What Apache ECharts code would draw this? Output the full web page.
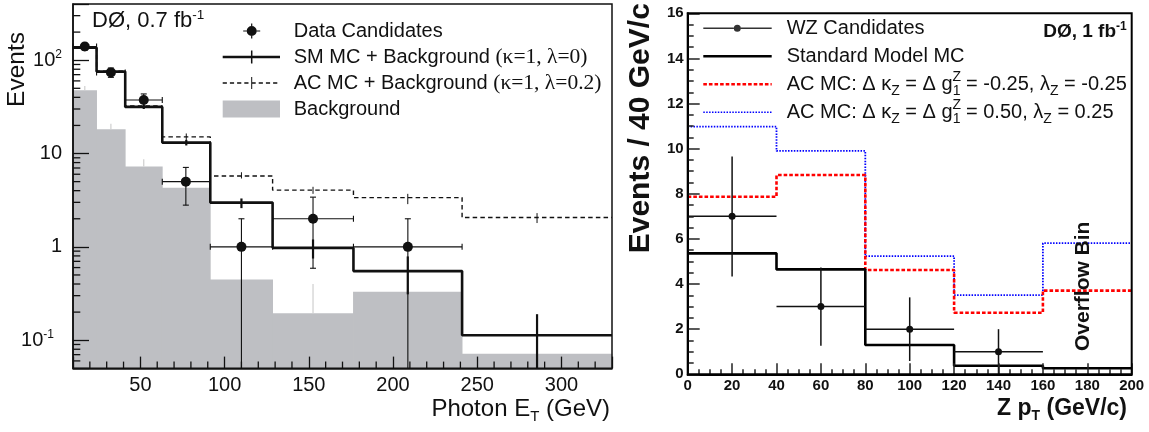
<!DOCTYPE html>
<html><head><meta charset="utf-8">
<script src="https://cdn.jsdelivr.net/npm/echarts@6/dist/echarts.min.js"></script>
<style>html,body{margin:0;padding:0;background:#fff}#c{width:1149px;height:432px}</style>
</head><body><div id="c"></div>
<script>
// ---------------- Left panel (photon ET) ----------------
const leftBinEdges = [10, 24, 41, 63, 91.5, 128.5, 176.5, 241, 330];
const leftSM   = [136, 75.5, 31.6, 13.1, 2.98, 0.976, 0.55, 0.113];
const leftSMLo = [132, 72.5, 30.0, 12.2, 2.6, 0.75, 0.31, 0];
const leftSMHi = [140, 78.5, 33.2, 14.0, 3.3, 1.2, 0.79, 0.19];
const leftAC   = [137, 76, 32.4, 15.1, 5.75, 4.05, 3.37, 2.06];
const leftACLo = [133, 73, 31.0, 13.8, 5.4, 3.7, 2.87, 1.8];
const leftACHi = [141, 79, 34.0, 16.4, 6.3, 4.4, 3.7, 2.3];
const leftBkg   = [47.7, 18.2, 7.25, 4.31, 0.447, 0.195, 0.331, 0.0716];
const leftBkgHi = [53, 20.8, 8.7, 4.9, 0.447, 0.4, 0.331, 0.0716];
const leftDataX  = [17, 32.5, 52, 77, 110, 152.5, 208.8];
const leftDataY  = [140, 74, 37.5, 5, 1, 2, 1];
const leftDataLo = [128, 65.5, 31.5, 2.8, 0, 0.59, 0];
const leftDataHi = [152, 82.5, 43.5, 7.1, 2.0, 3.41, 2.0];
const leftXMinorTicks = [20,30,40,60,70,80,90,110,120,130,140,160,170,180,190,210,220,230,240,260,270,280,290,310,320];
const leftYMinorTicks = [0.06,0.07,0.08,0.09,0.2,0.3,0.4,0.5,0.6,0.7,0.8,0.9,2,3,4,5,6,7,8,9,20,30,40,50,60,70,80,90,200,300];
const leftYTickLabels = {'2': '10{sup|2}', '1': '10', '0': '1', '-1': '10{sup|-1}{pad| }'};

// ---------------- Right panel (Z pT) ----------------
const rightBinEdges = [0, 40, 80, 120, 160, 200];
const rightSM    = [5.36, 4.65, 1.30, 0.38, 0.27];
const rightACneg = [7.87, 8.83, 4.62, 2.73, 3.71];
const rightACpos = [10.98, 9.90, 5.24, 3.51, 5.81];
const rightDataX  = [20, 60, 100, 140];
const rightDataY  = [7, 3, 2, 1];
const rightDataLo = [4.33, 1.27, 0.59, 0];
const rightDataHi = [9.65, 4.73, 3.41, 2.0];
const overflowLabel = [[178, 3.9]];

const nmData = 'Data Candidates', nmSM = 'SM MC + Background (κ=1, λ=0)', nmAC = 'AC MC + Background (κ=1, λ=0.2)', nmBkg = 'Background';
const nmWZ = 'WZ Candidates', nmSMR = 'Standard Model MC',
      nmNeg = 'AC MC: Δ κZ = Δ gZ1 = -0.25, λZ = -0.25', nmPos = 'AC MC: Δ κZ = Δ gZ1 = 0.50, λZ = 0.25';
const rightRich = {};
rightRich[nmWZ] = 'WZ Candidates';
rightRich[nmSMR] = 'Standard Model MC';
rightRich[nmNeg] = 'AC MC: Δ κ{sz|Z} = Δ g{sp|Z}{s1|1} = -0.25, λ{sz|Z} = -0.25';
rightRich[nmPos] = 'AC MC: Δ κ{sz|Z} = Δ g{sp|Z}{s1|1} = 0.50, λ{sz|Z} = 0.25';

const FF = 'Liberation Sans, Arial, Helvetica, sans-serif';
const SERIF = 'Liberation Serif, Times New Roman, serif';
const INK = '#111';

function stepData(edges, vals) { return edges.map((e, i) => [e, vals[Math.min(i, vals.length - 1)]]); }
function centers(edges) { return edges.slice(0, -1).map((e, i) => (e + edges[i + 1]) / 2); }

const lc = centers(leftBinEdges);
const bkgItems = leftBkg.map((v, i) => [leftBinEdges[i], leftBinEdges[i + 1], v]);
const bkgErrItems = leftBkg.map((v, i) => [lc[i], v, leftBkgHi[i]]);
const smErrItems = leftSM.map((v, i) => [lc[i], leftSMLo[i], leftSMHi[i]]);
const acErrItems = leftAC.map((v, i) => [lc[i], leftACLo[i], leftACHi[i]]);
const leftDataItems = leftDataY.map((v, i) => [leftDataX[i], leftBinEdges[i], leftBinEdges[i + 1], v, leftDataLo[i], leftDataHi[i]]);
const rightDataItems = rightDataY.map((v, i) => [rightDataX[i], rightBinEdges[i], rightBinEdges[i + 1], v, rightDataLo[i], rightDataHi[i]]);

function vsegRender(style) {
  return function (params, api) {
    const x = api.value(0), lo = api.value(1), hi = api.value(2);
    const cs = params.coordSys, bottom = cs.y + cs.height;
    const pHi = api.coord([x, hi]);
    const pLo = lo > 0 ? api.coord([x, lo]) : [pHi[0], bottom];
    return {type: 'line', shape: {x1: pHi[0], y1: pHi[1], x2: pHi[0], y2: Math.min(pLo[1], bottom)}, style: style};
  };
}
function dataRender(r, lw, caps) {
  return function (params, api) {
    const x = api.value(0), xlo = api.value(1), xhi = api.value(2), y = api.value(3), ylo = api.value(4), yhi = api.value(5);
    const cs = params.coordSys, bottom = cs.y + cs.height;
    const c = api.coord([x, y]), l = api.coord([xlo, y]), rr = api.coord([xhi, y]), t = api.coord([x, yhi]);
    const b = ylo > 0 ? api.coord([x, ylo]) : [c[0], bottom];
    const st = {stroke: INK, lineWidth: lw};
    const ch = [
      {type: 'line', shape: {x1: l[0], y1: c[1], x2: rr[0], y2: c[1]}, style: st},
      {type: 'line', shape: {x1: c[0], y1: t[1], x2: c[0], y2: b[1]}, style: st}
    ];
    if (caps) {
      ch.push({type: 'line', shape: {x1: l[0], y1: c[1] - 3, x2: l[0], y2: c[1] + 3}, style: st});
      ch.push({type: 'line', shape: {x1: rr[0], y1: c[1] - 3, x2: rr[0], y2: c[1] + 3}, style: st});
      ch.push({type: 'line', shape: {x1: c[0] - 3, y1: t[1], x2: c[0] + 3, y2: t[1]}, style: st});
      if (ylo > 0) ch.push({type: 'line', shape: {x1: c[0] - 3, y1: b[1], x2: c[0] + 3, y2: b[1]}, style: st});
    }
    ch.push({type: 'circle', shape: {cx: c[0], cy: c[1], r: r}, style: {fill: INK}});
    return {type: 'group', children: ch};
  };
}

// legend icon paths (style only)
function dashes(x0, x1, y, h, d, g) {
  let s = '';
  for (let x = x0; x < x1 - 0.5; x += d + g) { const w = Math.min(d, x1 - x); s += 'M' + x + ',' + (y - h / 2) + 'h' + w + 'v' + h + 'h' + (-w) + 'z'; }
  return s;
}
const L = 'M0,0M66,24';
const iconData = 'path://' + L + 'M20.5,11.4h3.5v1.2h-3.5zM34,11.4h3.5v1.2h-3.5zM28.4,4.5h1.2v2.5h-1.2zM28.4,17h1.2v2.5h-1.2zM24,12a5,5 0 1,0 10,0a5,5 0 1,0 -10,0z';
const iconSM = 'path://' + L + 'M0,10.75h57.3v2.5h-57.3zM28.25,5.5h1.5v13h-1.5z';
const iconAC = 'path://' + L + dashes(0, 57.3, 12, 1.3, 4.2, 3.0) + 'M28.5,6h1v12h-1z';
const iconBkg = 'path://' + L + 'M0,3.5h57.3v17h-57.3z';
const R = 'M0,0M78.4,16';
const iconWZ = 'path://' + R + 'M0,7.3h30.5v1.4h-30.5zM37.5,7.3h30.9v1.4h-30.9zM30.5,8a3.5,3.5 0 1,0 7,0a3.5,3.5 0 1,0 -7,0z';
const iconSMR = 'path://' + R + 'M0,6.75h68.4v2.5h-68.4z';
const iconNeg = 'path://' + R + dashes(0, 68.4, 8, 2.5, 3.6, 2.0);
const iconPos = 'path://' + R + dashes(0, 68.4, 8, 1.6, 1.5, 1.4);

const axisInk = {color: INK, width: 1.5};
const chart = echarts.init(document.getElementById('c'), null, {renderer: 'canvas'});
chart.setOption({
  animation: false,
  backgroundColor: '#fff',
  title: [
    {text: 'DØ, 0.7 fb{sup|-1}', left: 92, top: 8, padding: 0,
     textStyle: {fontFamily: FF, fontSize: 22, fontWeight: 'normal', color: INK, lineHeight: 25,
       rich: {sup: {fontFamily: FF, fontSize: 13.5, lineHeight: 17, verticalAlign: 'top', color: INK}}}},
    {text: 'DØ, 1 fb{sup|-1}', right: 22.3, top: 21, padding: 0,
     textStyle: {fontFamily: FF, fontSize: 19, fontWeight: 'bold', color: INK, lineHeight: 22,
       rich: {sup: {fontFamily: FF, fontSize: 12, fontWeight: 'bold', lineHeight: 9, verticalAlign: 'top', color: INK}}}}
  ],
  legend: [
    {orient: 'vertical', left: 222.7, top: 19, padding: 0, itemGap: 2, itemWidth: 66, itemHeight: 24,
     selectedMode: false, itemStyle: {borderWidth: 0},
     data: [
       {name: nmData, icon: iconData, itemStyle: {color: INK, borderWidth: 0}},
       {name: nmSM, icon: iconSM, itemStyle: {color: INK, borderWidth: 0}},
       {name: nmAC, icon: iconAC, itemStyle: {color: INK, borderWidth: 0}},
       {name: nmBkg, icon: iconBkg, itemStyle: {color: '#bebfc3', borderWidth: 0}}
     ],
     formatter: n => n.replace(/\((κ[^)]*)\)/, '{g|($1)}'),
     textStyle: {fontFamily: FF, fontSize: 20, color: INK, lineHeight: 22,
       rich: {g: {fontFamily: SERIF, fontSize: 21.5, lineHeight: 22, color: INK}}}},
    {orient: 'vertical', left: 703.3, top: 14.3, padding: 0, itemGap: 0, itemWidth: 78.4, itemHeight: 16,
     selectedMode: false, itemStyle: {borderWidth: 0},
     data: [
       {name: nmWZ, icon: iconWZ, itemStyle: {color: '#333', borderWidth: 0}},
       {name: nmSMR, icon: iconSMR, itemStyle: {color: '#000', borderWidth: 0}},
       {name: nmNeg, icon: iconNeg, itemStyle: {color: '#ff0000', borderWidth: 0}},
       {name: nmPos, icon: iconPos, itemStyle: {color: '#0000ff', borderWidth: 0}}
     ],
     formatter: n => rightRich[n],
     textStyle: {fontFamily: FF, fontSize: 20, color: INK, lineHeight: 28,
       rich: {
         sz: {fontFamily: FF, fontSize: 14, lineHeight: 2, verticalAlign: 'bottom', color: INK},
         sp: {fontFamily: FF, fontSize: 14, lineHeight: 18, verticalAlign: 'top', width: 0.1, color: INK},
         s1: {fontFamily: FF, fontSize: 14, lineHeight: 10, verticalAlign: 'bottom', color: INK}
       }}}
  ],
  grid: [
    {left: 73, top: 4, width: 539, height: 364.3, show: true, borderColor: INK, borderWidth: 1.5, z: 5, outerBoundsMode: 'none', containLabel: false},
    {left: 687.7, top: 13.3, width: 444, height: 361, show: true, borderColor: '#000', borderWidth: 2, z: 5, outerBoundsMode: 'none', containLabel: false}
  ],
  xAxis: [
    {type: 'value', gridIndex: 0, min: 10, max: 330, z: 4,
     axisLine: {show: true, lineStyle: axisInk}, splitLine: {show: false},
     axisTick: {show: true, inside: true, length: 11.7, lineStyle: {color: INK, width: 1.3}},
     axisLabel: {formatter: v => (v % 50 === 0 ? String(v) : ''), fontFamily: FF, fontSize: 20, color: INK, margin: 7, showMinLabel: true, showMaxLabel: true},
     name: 'Photon E{sub|T} (GeV)', nameLocation: 'end', nameGap: -2, nameMoveOverlap: false,
     nameTextStyle: {fontFamily: FF, fontSize: 24, color: INK, align: 'right', verticalAlign: 'top', lineHeight: 30, padding: [26, 0, 0, 0],
       rich: {sub: {fontFamily: FF, fontSize: 15, lineHeight: 4, verticalAlign: 'bottom', color: INK}}}},
    {type: 'value', gridIndex: 1, min: 0, max: 200, interval: 20, z: 4,
     axisLine: {show: true, lineStyle: {color: '#000', width: 2}}, splitLine: {show: false},
     axisTick: {show: true, inside: true, length: 11, lineStyle: {color: '#222', width: 1.5}},
     minorTick: {show: true, splitNumber: 4, length: 5, lineStyle: {color: '#222', width: 1.5}},
     axisLabel: {fontFamily: FF, fontSize: 15, fontWeight: 'bold', color: INK, margin: 4, showMinLabel: true, showMaxLabel: true},
     name: 'Z p{sub|T} (GeV/c)', nameLocation: 'end', nameGap: -4.7, nameMoveOverlap: false,
     nameTextStyle: {fontFamily: FF, fontSize: 23, fontWeight: 'bold', color: INK, align: 'right', verticalAlign: 'top', lineHeight: 30, padding: [19, 0, 0, 0],
       rich: {sub: {fontFamily: FF, fontSize: 14, fontWeight: 'bold', lineHeight: 2, verticalAlign: 'bottom', color: INK}}}}
  ],
  yAxis: [
    {type: 'log', logBase: 10, gridIndex: 0, min: 0.05, max: 400, z: 4,
     axisLine: {show: true, lineStyle: axisInk}, splitLine: {show: false},
     axisTick: {show: true, inside: true, length: 16, lineStyle: {color: INK, width: 1.3}},
     axisLabel: {fontFamily: FF, fontSize: 20, color: INK, margin: 11, lineHeight: 24, showMinLabel: true, showMaxLabel: true,
       formatter: v => { const k = Math.log10(v), kr = Math.round(k); if (Math.abs(k - kr) > 1e-6) return ''; return leftYTickLabels[String(kr)] || ''; },
       rich: {sup: {fontFamily: FF, fontSize: 12, lineHeight: 15, verticalAlign: 'top', color: INK}, pad: {width: 8, fontSize: 12}}}},
    {type: 'value', gridIndex: 1, min: 0, max: 16, interval: 2, z: 4,
     axisLine: {show: true, lineStyle: {color: '#000', width: 2}}, splitLine: {show: false},
     axisTick: {show: true, inside: true, length: 12, lineStyle: {color: '#222', width: 1.5}},
     minorTick: {show: true, splitNumber: 4, length: 6, lineStyle: {color: '#222', width: 1.5}},
     axisLabel: {fontFamily: FF, fontSize: 15, fontWeight: 'bold', color: INK, margin: 4, showMinLabel: true, showMaxLabel: true}}
  ],
  graphic: [
    {type: 'text', x: 17.2, y: 32, rotation: Math.PI / 2, z: 10, silent: true,
     style: {text: 'Events', font: '24.5px ' + FF, fill: INK, align: 'right', verticalAlign: 'middle'}},
    {type: 'text', x: 640.8, y: 253.3, rotation: Math.PI / 2, z: 10, silent: true,
     style: {text: 'Events / 40 GeV/c', font: 'bold 30px ' + FF, fill: INK, align: 'left', verticalAlign: 'middle'}}
  ],
  series: [
    // ---------- left ----------
    {name: nmBkg, type: 'custom', xAxisIndex: 0, yAxisIndex: 0, z: 1, silent: true, itemStyle: {color: '#bebfc3'},
     encode: {x: [0, 1], y: 2}, data: bkgItems,
     renderItem: (params, api) => {
       const cs = params.coordSys, bottom = cs.y + cs.height;
       const p0 = api.coord([api.value(0), api.value(2)]), p1 = api.coord([api.value(1), api.value(2)]);
       return {type: 'rect', shape: {x: p0[0] - 0.4, y: p0[1], width: p1[0] - p0[0] + 0.8, height: bottom - p0[1]}, style: {fill: '#bebfc3'}};
     }},
    {name: 'bkgErr', type: 'custom', xAxisIndex: 0, yAxisIndex: 0, z: 1.5, silent: true, encode: {x: 0, y: 2}, data: bkgErrItems,
     renderItem: vsegRender({stroke: '#cfcfcf', lineWidth: 1.2})},
    {name: nmAC, type: 'line', xAxisIndex: 0, yAxisIndex: 0, step: 'end', symbol: 'none', z: 2, silent: true,
     itemStyle: {color: INK}, lineStyle: {color: INK, width: 1.4, type: [4.5, 3.2]}, data: stepData(leftBinEdges, leftAC)},
    {name: 'acErr', type: 'custom', xAxisIndex: 0, yAxisIndex: 0, z: 2, silent: true, encode: {x: 0, y: 2}, data: acErrItems,
     renderItem: vsegRender({stroke: INK, lineWidth: 1})},
    {name: nmSM, type: 'line', xAxisIndex: 0, yAxisIndex: 0, step: 'end', symbol: 'none', z: 3, silent: true,
     itemStyle: {color: INK}, lineStyle: {color: INK, width: 2.6}, data: stepData(leftBinEdges, leftSM)},
    {name: 'smErr', type: 'custom', xAxisIndex: 0, yAxisIndex: 0, z: 3, silent: true, encode: {x: 0, y: 2}, data: smErrItems,
     renderItem: vsegRender({stroke: INK, lineWidth: 2.2})},
    {name: nmData, type: 'custom', xAxisIndex: 0, yAxisIndex: 0, z: 3.5, silent: true, itemStyle: {color: INK},
     encode: {x: 0, y: 3}, data: leftDataItems, renderItem: dataRender(5, 1.1, true)},
    {name: 'xMinor', type: 'custom', xAxisIndex: 0, yAxisIndex: 0, z: 6, silent: true, encode: {x: 0, y: 1},
     data: leftXMinorTicks.map(v => [v, 0.05]),
     renderItem: (params, api) => { const cs = params.coordSys, b = cs.y + cs.height, p = api.coord([api.value(0), 1]);
       return {type: 'line', shape: {x1: p[0], y1: b, x2: p[0], y2: b - 6.7}, style: {stroke: INK, lineWidth: 1.3}}; }},
    {name: 'yMinor', type: 'custom', xAxisIndex: 0, yAxisIndex: 0, z: 6, silent: true, encode: {x: 0, y: 1},
     data: leftYMinorTicks.map(v => [10, v]),
     renderItem: (params, api) => { const cs = params.coordSys, p = api.coord([10, api.value(1)]);
       return {type: 'line', shape: {x1: cs.x, y1: p[1], x2: cs.x + 7.3, y2: p[1]}, style: {stroke: INK, lineWidth: 1.3}}; }},
    // ---------- right ----------
    {name: nmPos, type: 'line', xAxisIndex: 1, yAxisIndex: 1, step: 'end', symbol: 'none', z: 2, silent: true,
     itemStyle: {color: '#0000ff'}, lineStyle: {color: '#0000ff', width: 1.8, type: [1.5, 1.4]}, data: stepData(rightBinEdges, rightACpos)},
    {name: nmNeg, type: 'line', xAxisIndex: 1, yAxisIndex: 1, step: 'end', symbol: 'none', z: 2.5, silent: true,
     itemStyle: {color: '#ff0000'}, lineStyle: {color: '#ff0000', width: 2.6, type: [3.6, 2.0]}, data: stepData(rightBinEdges, rightACneg)},
    {name: nmSMR, type: 'line', xAxisIndex: 1, yAxisIndex: 1, step: 'end', symbol: 'none', z: 3, silent: true,
     itemStyle: {color: '#000'}, lineStyle: {color: '#000', width: 2.6}, data: stepData(rightBinEdges, rightSM)},
    {name: nmWZ, type: 'custom', xAxisIndex: 1, yAxisIndex: 1, z: 3.5, silent: true, itemStyle: {color: INK},
     encode: {x: 0, y: 3}, data: rightDataItems, renderItem: dataRender(3.5, 1.5, false)},
    {name: 'overflow', type: 'custom', xAxisIndex: 1, yAxisIndex: 1, z: 4, silent: true, encode: {x: 0, y: 1}, data: overflowLabel,
     renderItem: (params, api) => { const p = api.coord([api.value(0), api.value(1)]);
       return {type: 'text', x: p[0], y: p[1], rotation: Math.PI / 2,
         style: {text: 'Overflow Bin', font: 'bold 21px ' + FF, fill: INK, align: 'center', verticalAlign: 'middle'}}; }}
  ]
});
</script>
</body></html>
